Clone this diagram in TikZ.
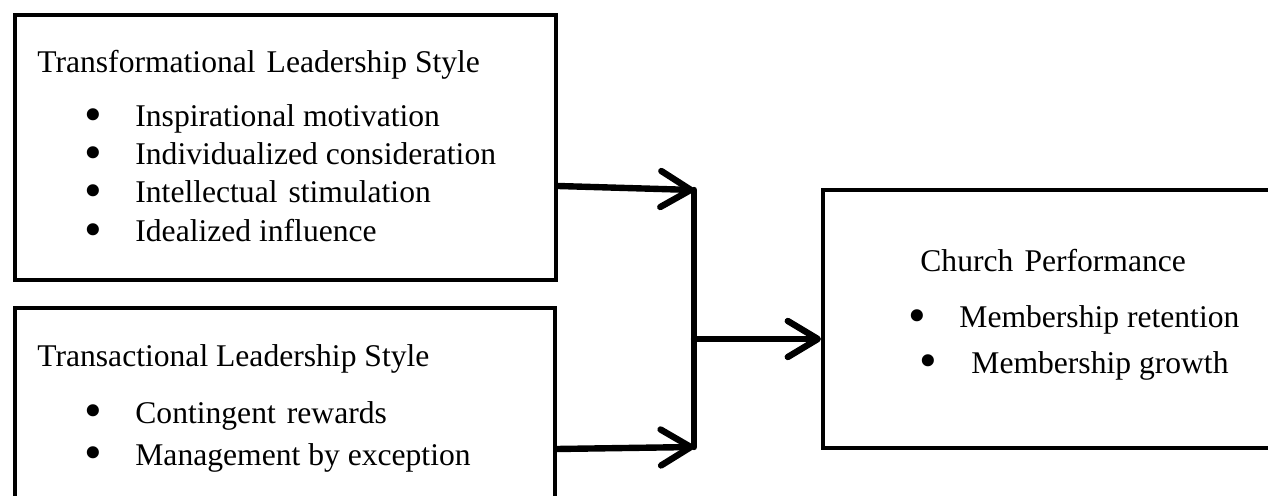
\documentclass[tikz,border=0pt]{standalone}
\usepackage{fontspec}
\setmainfont{Liberation Serif}
\usetikzlibrary{arrows.meta}
\begin{document}
\begin{tikzpicture}[x=0.5pt,y=-0.5pt,
  box/.style={draw=black,line width=2pt,rectangle,inner sep=0pt},
  txt/.style={anchor=base west,inner sep=0pt,font=\fontsize{15.8}{19}\selectfont},
  bul/.style={anchor=base,inner sep=0pt,font=\fontsize{15.8}{19}\selectfont},
  conn/.style={line width=3.2pt,line cap=round},
  arr/.style={conn,-{Straight Barb[length=15pt,width=18pt,round]}}]
\newcommand{\bigbul}{\smash{\raisebox{-2.4pt}{\scalebox{1.6}{\textbullet}}}}
\useasboundingbox (0,0) rectangle (1268,496);
\clip (0,0) rectangle (1268,496);
% boxes
\node[box,minimum width=270.5pt,minimum height=132.5pt] (b1) at (285.5,147.5) {};
\node[box,minimum width=270pt,minimum height=120pt] (b2) at (285,428) {};
\node[box,minimum width=250pt,minimum height=129pt] (b3) at (1073,319) {};
% box 1 text
\node[txt] (t1) at (37,73) {Transformational\hspace{0.1em} Leadership Style};
\node[bul] (u11) at (93,127) {\bigbul};
\node[txt] (i11) at (135,127) {Inspirational motivation};
\node[bul] (u12) at (93,165) {\bigbul};
\node[txt] (i12) at (135,165) {Individualized consideration};
\node[bul] (u13) at (93,203) {\bigbul};
\node[txt] (i13) at (135,203) {Intellectual\hspace{0.1em} stimulation};
\node[bul] (u14) at (93,242) {\bigbul};
\node[txt] (i14) at (135,242) {Idealized influence};
% box 2 text
\node[txt] (t2) at (37,367) {Transactional Leadership Style};
\node[bul] (u21) at (93,423) {\bigbul};
\node[txt] (i21) at (135,423) {Contingent\hspace{0.1em} rewards};
\node[bul] (u22) at (93,465) {\bigbul};
\node[txt] (i22) at (135,465) {Management by exception};
% box 3 text
\node[txt] (t3) at (920,272) {Church\hspace{0.1em} Performance};
\node[bul] (u31) at (917,328) {\bigbul};
\node[txt] (i31) at (959,328) {Membership retention};
\node[bul] (u32) at (928,373) {\bigbul};
\node[txt] (i32) at (971,373) {Membership growth};
% connectors
\coordinate (j1) at (694,190);
\coordinate (j2) at (694,447);
\coordinate (jm) at (694,339);
\draw[conn] (j1) -- (j2);
\draw[arr] (b1.east |- 0,186) -- (j1);
\draw[arr] (b2.east |- 0,449) -- (j2);
\draw[arr] (jm) -- (b3.west |- jm);
\end{tikzpicture}
\end{document}
